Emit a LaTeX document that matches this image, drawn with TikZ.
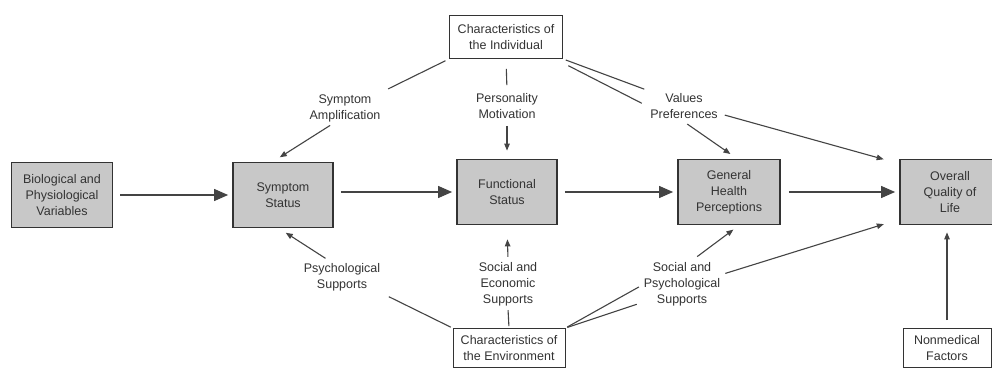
\documentclass[tikz,border=0pt]{standalone}
\usepackage{fontspec}
\setmainfont{Liberation Sans}
\usetikzlibrary{arrows.meta,calc}
\definecolor{boxfill}{HTML}{C8C8C8}
\definecolor{ink}{HTML}{333333}
\definecolor{linec}{HTML}{444444}
\begin{document}
\begin{tikzpicture}[x=1pt,y=-1pt,
  every node/.style={font=\fontsize{12.5}{16}\selectfont, text=ink, align=center},
  mainbox/.style={draw=ink, line width=1.8pt, fill=boxfill, minimum width=100pt, minimum height=65pt, inner sep=2pt},
  charbox/.style={draw=ink, line width=0.9pt, fill=white, minimum width=112pt, minimum height=42pt, inner sep=2pt},
  lbl/.style={inner sep=3pt},
  conn/.style={draw=linec, line width=1.1pt},
  bigarrow/.style={conn, -{Triangle[length=14pt,width=12pt]}},
  smallarrow/.style={conn, -{Triangle[length=7pt,width=5.5pt]}}
]
\useasboundingbox[fill=white] (0,0) rectangle (992,371);

% main boxes
\node[mainbox, minimum width=101pt] (bio) at (62,195) {Biological and\\Physiological\\Variables};
\node[mainbox] (sym) at (283,195) {Symptom\\Status};
\node[mainbox] (func) at (507,192) {Functional\\Status};
\node[mainbox, minimum width=102pt] (gh) at (729,192) {General\\Health\\Perceptions};
\node[mainbox] (ov) at (950,192) {Overall\\Quality of\\Life};

% characteristic boxes
\node[charbox, minimum width=113pt, minimum height=43pt] (ind) at (506,37) {Characteristics of\\the Individual};
\node[charbox, minimum width=112pt, minimum height=39pt] (env) at (509,348) {Characteristics of\\the Environment};
\node[charbox, minimum width=88pt, minimum height=39pt] (nm) at (947,348) {Nonmedical\\Factors};

% labels
\node[lbl] (amp) at (345,108) {Symptom\\Amplification};
\node[lbl] (pers) at (507,106) {Personality\\Motivation};
\node[lbl] (vals) at (684,106) {Values\\Preferences};
\node[lbl] (psy) at (342,277) {Psychological\\Supports};
\node[lbl] (soc) at (508,284) {Social and\\Economic\\Supports};
\node[lbl] (sp) at (682,284) {Social and\\Psychological\\Supports};

% main flow
\draw[bigarrow, shorten <=7pt, shorten >=4pt] (bio.east) -- (sym.west);
\draw[bigarrow, shorten <=7pt, shorten >=4pt] (sym.east |- func.west) -- (func.west);
\draw[bigarrow, shorten <=7pt, shorten >=4pt] (func.east) -- (gh.west);
\draw[bigarrow, shorten <=8pt, shorten >=4pt] (gh.east) -- (ov.west);

% individual
\draw[conn, shorten <=4pt, shorten >=5pt] (ind.south west) -- (amp.north east);
\draw[smallarrow, shorten <=1pt, shorten >=8pt] ([xshift=-14pt]amp.south) -- ([xshift=-10pt]sym.north);
\draw[conn, shorten <=10pt, shorten >=5pt] (ind.south) -- (pers.north);
\draw[smallarrow, shorten <=4pt, shorten >=8pt] (pers.south) -- (func.north);
\draw[conn, shorten <=3pt, shorten >=3pt] (ind.south east) -- (vals.north west);
\draw[conn, shorten <=6pt, shorten >=6pt] ([yshift=-4pt]ind.south east) -- (vals.west);
\draw[smallarrow, shorten <=4pt, shorten >=8pt] (vals.south) -- ([xshift=8pt]gh.north);
\draw[smallarrow, shorten <=4pt, shorten >=16pt] ([yshift=-8pt]vals.east) -- ([yshift=-5pt]ov.north west);

% environment
\draw[conn, shorten <=2pt, shorten >=6pt] (env.north west) -- (psy.south east);
\draw[smallarrow, shorten <=3pt, shorten >=8pt] ([xshift=-14pt]psy.north) -- ([xshift=-4pt]sym.south);
\draw[conn, shorten <=2pt, shorten >=1pt] (env.north) -- (soc.south);
\draw[smallarrow, shorten <=2pt, shorten >=14pt] (soc.north) -- (func.south);
\draw[conn, shorten <=2pt, shorten >=2pt] (env.north east) -- ([yshift=-2pt]sp.west);
\draw[conn, shorten <=2pt, shorten >=4pt] (env.north east) -- ([yshift=6pt]sp.south west);
\draw[smallarrow, shorten <=4pt, shorten >=7pt] ([xshift=12pt]sp.north) -- ([xshift=10pt]gh.south);
\draw[smallarrow, shorten <=2pt, shorten >=16pt] ([yshift=10pt]sp.east) -- ([yshift=6pt]ov.south west);
\draw[smallarrow, shorten <=8pt, shorten >=7pt] (nm.north) -- (ov.south -| nm.north);
\end{tikzpicture}
\end{document}
